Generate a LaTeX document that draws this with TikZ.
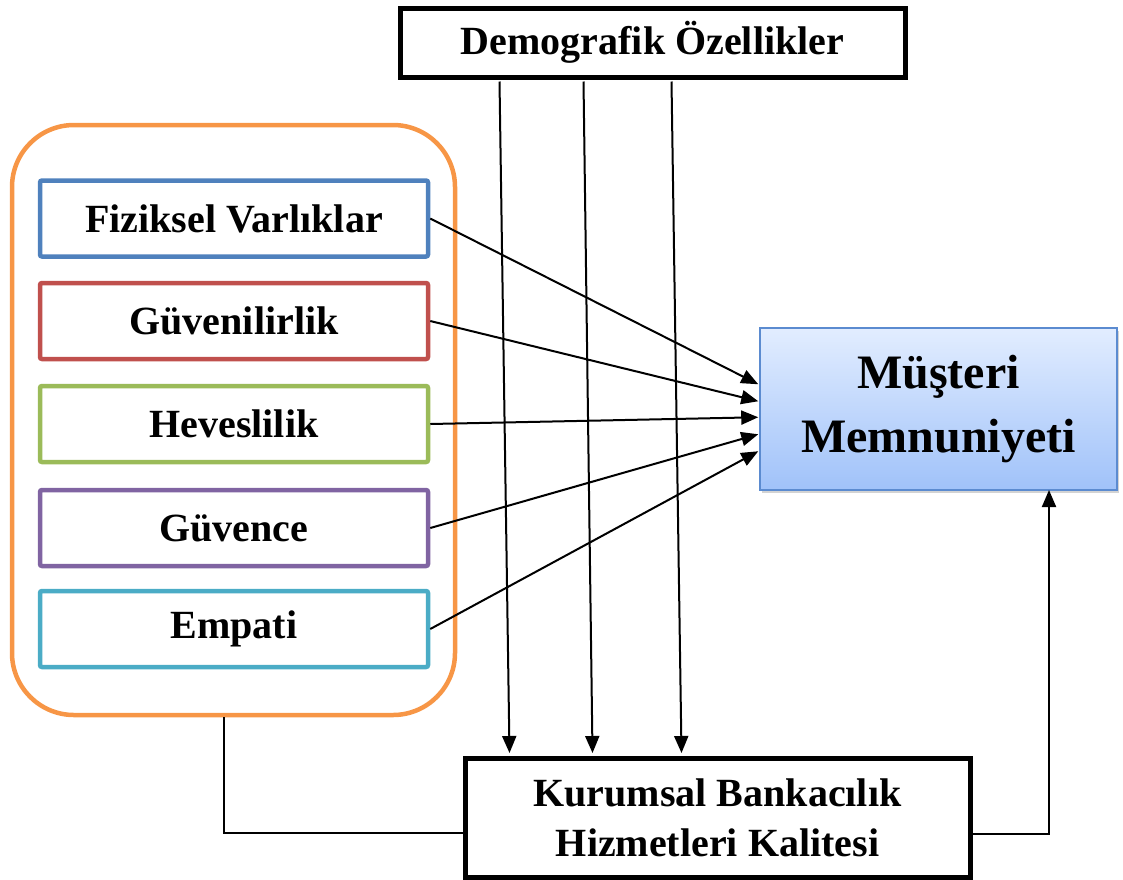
\documentclass[tikz,border=0pt]{standalone}
\usepackage{fontspec}
\setmainfont{Liberation Serif}
\usetikzlibrary{arrows.meta,calc,shadows}
\definecolor{cOrange}{HTML}{F79646}
\definecolor{cBlue}{HTML}{4F81BD}
\definecolor{cRed}{HTML}{C0504D}
\definecolor{cGreen}{HTML}{9BBB59}
\definecolor{cPurple}{HTML}{8064A2}
\definecolor{cTeal}{HTML}{4BACC6}
\definecolor{cTop}{HTML}{E2EDFF}
\definecolor{cBot}{HTML}{A0C2F9}
\definecolor{cEdge}{HTML}{5B8BD0}
\begin{document}
\begin{tikzpicture}[x=1pt,y=-1pt,
  every node/.style={font=\fontsize{40}{50}\selectfont\bfseries, align=center, inner sep=0pt},
  blackbox/.style={draw=black, line width=5pt, fill=white},
  dimbox/.style={draw=#1, line width=4.5pt, fill=white, minimum width=388pt, minimum height=76pt, rounded corners=2pt},
  arr/.style={draw=black, line width=2pt, -{Triangle[length=17pt,width=14pt]}},
  plainline/.style={draw=black, line width=1.6pt}]
\useasboundingbox (0,0) rectangle (1123,879);
% group frame
\node[draw=cOrange, line width=4.5pt, rounded corners=62pt, minimum width=443pt, minimum height=590pt] (grp) at (233.5,420) {};
% dimension boxes
\node[dimbox=cBlue] (fv) at (234,218.5) {Fiziksel Varlıklar};
\node[dimbox=cRed] (gv) at (234,321) {Güvenilirlik};
\node[dimbox=cGreen] (hv) at (234,424) {Heveslilik};
\node[dimbox=cPurple] (gc) at (234,528) {Güvence};
\node[dimbox=cTeal] (em) at (234,629) {Empati};
% top box
\node[blackbox, minimum width=505pt, minimum height=69pt] (demo) at (652.5,42.5) {Demografik Özellikler};
% satisfaction box
\node[draw=cEdge, line width=1.5pt, top color=cTop, bottom color=cBot, minimum width=357pt, minimum height=162pt,
  drop shadow={shadow xshift=2pt, shadow yshift=-3pt, opacity=0.35},
  font=\fontsize{48}{64}\selectfont\bfseries] (ms) at (938.5,409) {Müşteri\\Memnuniyeti};
% bottom box
\node[blackbox, minimum width=505pt, minimum height=119pt] (kb) at (717.5,817.5) {Kurumsal Bankacılık\\Hizmetleri Kalitesi};
% arrows from dimensions to satisfaction
\draw[arr] (fv.east) -- ($(ms.north west)+(-1,57)$);
\draw[arr] (gv.east) -- ($(ms.north west)+(-1,74)$);
\draw[arr] (hv.east) -- ($(ms.north west)+(-1,90)$);
\draw[arr] (gc.east) -- ($(ms.north west)+(-1,107)$);
\draw[arr] (em.east) -- ($(ms.north west)+(-1,124)$);
% arrows from demographics to corporate banking
\draw[arr] ($(demo.south west)+(102,2)$) -- ($(kb.north west)+(47,-2.5)$);
\draw[arr] ($(demo.south west)+(186,2)$) -- ($(kb.north west)+(130,-2.5)$);
\draw[arr] ($(demo.south west)+(274,2)$) -- ($(kb.north west)+(219,-2.5)$);
% group to corporate banking
\coordinate (g1) at ($(grp.south west)+(214,0)$);
\draw[plainline] (g1) -- (g1 |- 0,833) -- (kb.west |- 0,833);
% corporate banking to satisfaction
\coordinate (k1) at (kb.east |- 0,834);
\draw[arr] (k1) -- (1049,834) -- (1049,490);
\end{tikzpicture}
\end{document}
